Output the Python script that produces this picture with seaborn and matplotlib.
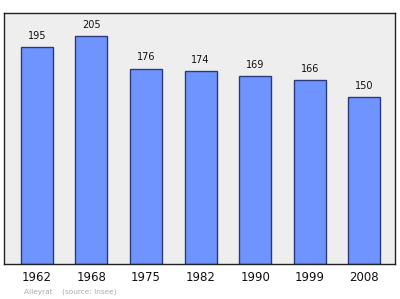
import matplotlib
matplotlib.use("Agg")
import matplotlib.pyplot as plt
import seaborn as sns
import pandas as pd

years = ["1962", "1968", "1975", "1982", "1990", "1999", "2008"]
population = [195, 205, 176, 174, 169, 166, 150]

sns.set_theme(style="white")
plt.rcParams['font.family'] = ['DejaVu Sans']

df = pd.DataFrame({"year": years, "pop": population})

fig = plt.figure(figsize=(4.0, 2.99), dpi=100)
ax = fig.add_axes([4/400, 1 - 264/299, 391/400, 251/299])
ax.set_facecolor("#eeeeee")
sns.barplot(data=df, x="year", y="pop", ax=ax, color="#7094ff", width=0.585,
            edgecolor="#2a3a7a", linewidth=1.0, saturation=1)
for i, v in enumerate(population):
    ax.text(i, v + 5.5, str(v), ha="center", va="bottom", fontsize=7, color="#111111")
ax.set_xlim(-0.6, 6.56)
ax.set_ylim(0, 226)
ax.set_yticks([])
ax.set_xlabel("")
ax.set_ylabel("")
ax.tick_params(axis="x", length=0, pad=5, labelsize=8.5, colors="#111111")
for s in ax.spines.values():
    s.set_color("#222222")
    s.set_linewidth(1.0)
fig.text(24/400, 1 - 292/299, "Alleyrat    (source: Insee)", fontsize=5.3, color="#aaaaaa", va="center")
fig.savefig("out.png", dpi=100)
